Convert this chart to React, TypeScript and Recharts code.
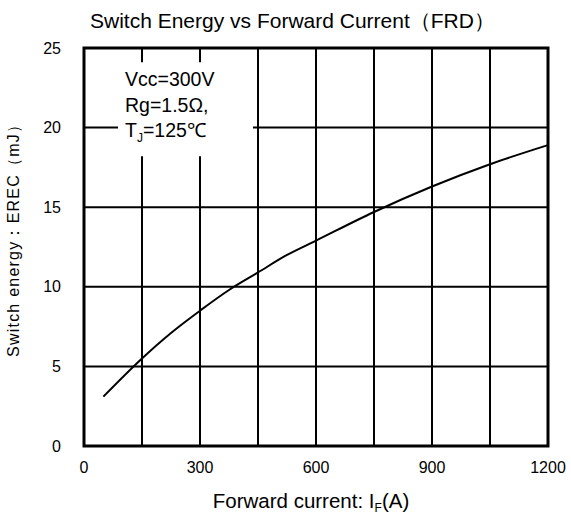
import React from 'react';
import { LineChart, Line, XAxis, YAxis, CartesianGrid, ReferenceArea, Label } from 'recharts';

const currentA = [50, 150, 225, 300, 375, 450, 525, 600, 750, 900, 1050, 1200];
const energyMJ = [3.1, 5.5, 7.1, 8.5, 9.8, 10.9, 12.0, 12.9, 14.7, 16.3, 17.7, 18.9];
const xTicks = [0, 150, 300, 450, 600, 750, 900, 1050, 1200];
const xLabelTicks = [0, 300, 600, 900, 1200];
const yTicks = [0, 5, 10, 15, 20, 25];
const titleText = 'Switch Energy vs Forward Current（FRD）';
const yTitle = 'Switch energy：EREC（mJ）';
const noteLines = ['Vcc=300V', 'Rg=1.5Ω,'];

const data = currentA.map((x, i) => ({ x, y: energyMJ[i] }));

const FONT = '"Liberation Sans", Arial, sans-serif';

const NoteLabel = (props: any) => {
  const vb = props.viewBox || {};
  const x0 = vb.x + 7;
  const y0 = vb.y;
  return (
    <g fontFamily={FONT} fontSize={19.5} fill="#000">
      <text x={x0} y={y0 + 24}>{noteLines[0]}</text>
      <text x={x0} y={y0 + 50}>{noteLines[1]}</text>
      <text x={x0} y={y0 + 75}>
        T<tspan fontSize={12} dy={5}>J</tspan><tspan dy={-5}>=125℃</tspan>
      </text>
    </g>
  );
};

const XTitle = (props: any) => {
  const vb = props.viewBox || {};
  return (
    <text x={vb.x + vb.width / 2 - 5} y={vb.y + 62} textAnchor="middle" fontFamily={FONT} fontSize={20.5} fill="#000">
      Forward current: I<tspan fontSize={12} dy={4}>F</tspan><tspan dy={-4}>(A)</tspan>
    </text>
  );
};

const YTitle = (props: any) => {
  const cx = 19;
  const cy = 237;
  return (
    <text x={cx} y={cy} transform={`rotate(-90 ${cx} ${cy})`} textAnchor="middle" fontFamily={FONT} fontSize={16} fill="#000" textLength={240} lengthAdjust="spacing">
      {yTitle}
    </text>
  );
};

export default function App() {
  return (
    <div style={{ position: 'absolute', left: 0, top: 0, width: 571, height: 516, background: '#fff' }}>
      <svg width={571} height={40} style={{ position: 'absolute', left: 0, top: 0 }}>
        <text x={90} y={28} fontFamily={FONT} fontSize={21} fill="#000">{titleText}</text>
      </svg>
      <div style={{ position: 'absolute', left: 0, top: 0 }}>
        <LineChart width={571} height={516} data={data} margin={{ top: 48, right: 23, bottom: 30, left: 0 }}>
          <CartesianGrid stroke="#000" strokeWidth={2} strokeOpacity={1} />
          <XAxis
            type="number"
            dataKey="x"
            domain={[0, 1200]}
            ticks={xTicks}
            interval={0}
            tickFormatter={(v: number) => (xLabelTicks.includes(v) ? String(v) : '')}
            axisLine={false}
            tickLine={false}
            tickSize={0}
            tickMargin={16}
            height={40}
            tick={{ fill: '#000', fontSize: 16, fontFamily: FONT }}
          >
            <Label content={<XTitle />} />
          </XAxis>
          <YAxis
            type="number"
            domain={[0, 25]}
            ticks={yTicks}
            interval={0}
            axisLine={false}
            tickLine={false}
            tickSize={0}
            tickMargin={23}
            width={84}
            tick={{ fill: '#000', fontSize: 16, fontFamily: FONT }}
          >
            <Label content={<YTitle />} />
          </YAxis>
          <ReferenceArea x1={88} x2={437} y1={18.2} y2={24.1} fill="#fff" fillOpacity={1} stroke="none" label={<NoteLabel />} />
          <ReferenceArea x1={0} x2={1200} y1={0} y2={25} fill="none" fillOpacity={0} stroke="#000" strokeWidth={3} />
          <Line type="monotone" dataKey="y" stroke="#000" strokeWidth={2} dot={false} isAnimationActive={false} />
        </LineChart>
      </div>
    </div>
  );
}
